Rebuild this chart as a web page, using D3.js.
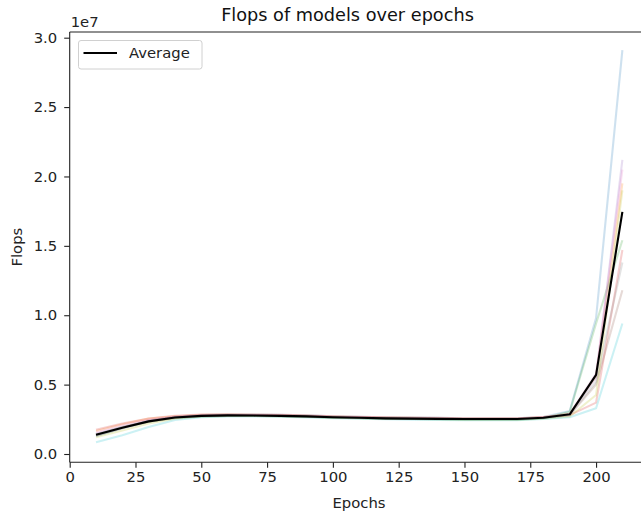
<!DOCTYPE html>
<html><head><meta charset="utf-8">
<script src="https://cdn.jsdelivr.net/npm/d3@7"></script>
<style>
html,body{margin:0;padding:0;background:#fff;overflow:hidden;}
svg{display:block;font-family:"DejaVu Sans",sans-serif;}
</style></head>
<body>
<svg id="chart" width="641" height="515"></svg>
<script>
const epochs = [10,20,30,40,50,60,70,80,90,100,110,120,130,140,150,160,170,180,190,200,210];
// values in units of 1e6 flops
const model0 = [1.30,1.85,2.40,2.68,2.80,2.84,2.84,2.82,2.78,2.72,2.68,2.64,2.62,2.60,2.58,2.58,2.58,2.66,3.10,9.8,29.1];
const model1 = [1.65,2.15,2.55,2.72,2.82,2.84,2.82,2.80,2.76,2.70,2.66,2.62,2.60,2.58,2.56,2.56,2.56,2.66,2.90,5.6,19.5];
const model2 = [1.40,1.95,2.35,2.60,2.70,2.74,2.74,2.72,2.68,2.62,2.58,2.54,2.52,2.50,2.48,2.48,2.48,2.58,3.05,9.4,15.4];
const model3 = [1.75,2.20,2.55,2.75,2.84,2.86,2.84,2.82,2.78,2.72,2.68,2.64,2.62,2.60,2.58,2.58,2.58,2.66,2.80,3.7,14.7];
const model4 = [1.45,1.95,2.40,2.65,2.75,2.78,2.78,2.76,2.72,2.66,2.62,2.58,2.56,2.54,2.52,2.52,2.52,2.62,2.85,5.5,21.2];
const model5 = [1.35,1.90,2.35,2.62,2.74,2.76,2.76,2.74,2.70,2.64,2.60,2.56,2.54,2.52,2.50,2.50,2.50,2.60,2.80,5.0,11.8];
const model6 = [1.55,2.05,2.45,2.68,2.78,2.80,2.80,2.78,2.74,2.68,2.64,2.60,2.58,2.56,2.54,2.54,2.54,2.64,2.90,5.8,20.5];
const model7 = [1.30,1.85,2.30,2.60,2.72,2.75,2.75,2.73,2.69,2.63,2.59,2.55,2.53,2.51,2.49,2.49,2.49,2.59,2.82,5.2,13.8];
const model8 = [1.20,1.70,2.20,2.55,2.70,2.74,2.74,2.72,2.68,2.62,2.58,2.54,2.52,2.50,2.48,2.48,2.48,2.55,2.70,4.25,19.0];
const model9 = [0.85,1.35,1.95,2.45,2.65,2.70,2.70,2.68,2.64,2.58,2.54,2.50,2.48,2.46,2.44,2.44,2.44,2.52,2.65,3.3,9.4];
const average = [1.38,1.89,2.35,2.63,2.75,2.78,2.77,2.75,2.71,2.65,2.61,2.57,2.55,2.53,2.52,2.52,2.52,2.61,2.86,5.7,17.45];
const models = [model0,model1,model2,model3,model4,model5,model6,model7,model8,model9];
const modelColors = ["#1f77b4","#ff7f0e","#2ca02c","#d62728","#9467bd","#8c564b","#e377c2","#7f7f7f","#bcbd22","#17becf"];
const xTicks = [0,25,50,75,100,125,150,175,200];
const yTicks = [0,0.5,1.0,1.5,2.0,2.5,3.0]; // ×1e7
const titleText = "Flops of models over epochs";
const xLabel = "Epochs";
const yLabel = "Flops";
const legendLabel = "Average";
const offsetText = "1e7";

const FS = 14.8, TFS = 17.7;
const svg = d3.select("#chart");
const L = 69.7, R = 648.7, T = 32, B = 462.3;
const x = d3.scaleLinear().domain([0,220]).range([L,R]);
const y = d3.scaleLinear().domain([-0.598,30.41]).range([B,T]); // in 1e6

const line = d3.line().x((d,i)=>x(epochs[i])).y(d=>y(d));

const plot = svg.append("g");
models.forEach((m,i)=>{
  plot.append("path").datum(m).attr("d",line)
    .attr("fill","none").attr("stroke",modelColors[i])
    .attr("stroke-opacity",0.22).attr("stroke-width",2.1)
    .attr("stroke-linejoin","round");
});
plot.append("path").datum(average).attr("d",line)
  .attr("fill","none").attr("stroke","#000").attr("stroke-width",2.1)
  .attr("stroke-linejoin","round");

// axes
const xAxis = d3.axisBottom(x).tickValues(xTicks).tickSize(5.5).tickPadding(4).tickFormat(d3.format("d"));
const gx = svg.append("g").attr("transform",`translate(0,${B})`).call(xAxis);
const yAxis = d3.axisLeft(y).tickValues(yTicks.map(v=>v*10)).tickSize(5.5).tickPadding(7).tickFormat(d=>(d/10).toFixed(1));
const gy = svg.append("g").attr("transform",`translate(${L},0)`).call(yAxis);
[gx,gy].forEach(g=>{
  g.select(".domain").remove();
  g.selectAll("text").attr("font-size",FS).attr("fill","#222").attr("font-family","DejaVu Sans");
  g.selectAll("line").attr("stroke","#222").attr("stroke-width",1.1);
});
// spines
[[L,L,T,B],[L,R,B,B],[L,R,T,T],[R,R,T,B]].forEach(s=>{
  svg.append("line").attr("x1",s[0]).attr("x2",s[1]).attr("y1",s[2]).attr("y2",s[3])
    .attr("stroke","#222").attr("stroke-width",1.1);
});

// texts
svg.append("text").attr("x",347.5).attr("y",21).attr("text-anchor","middle")
  .attr("font-size",TFS).attr("fill","#111").text(titleText);
svg.append("text").attr("x",359).attr("y",507.5).attr("text-anchor","middle")
  .attr("font-size",FS).attr("fill","#222").text(xLabel);
svg.append("text").attr("transform",`translate(22,${(T+B)/2}) rotate(-90)`).attr("text-anchor","middle")
  .attr("font-size",FS).attr("fill","#222").text(yLabel);
svg.append("text").attr("x",L+1).attr("y",26.5).attr("font-size",FS).attr("fill","#222").text(offsetText);

// legend
const lg = svg.append("g");
lg.append("rect").attr("x",78.5).attr("y",40.5).attr("width",123.5).attr("height",28.5)
  .attr("rx",2.5).attr("fill","#fff").attr("fill-opacity",0.8).attr("stroke","#d0d0d0").attr("stroke-width",1);
lg.append("line").attr("x1",83.5).attr("x2",117).attr("y1",53).attr("y2",53).attr("stroke","#000").attr("stroke-width",2.1);
lg.append("text").attr("x",129).attr("y",58).attr("font-size",FS).attr("fill","#222").text(legendLabel);
</script>
</body></html>
